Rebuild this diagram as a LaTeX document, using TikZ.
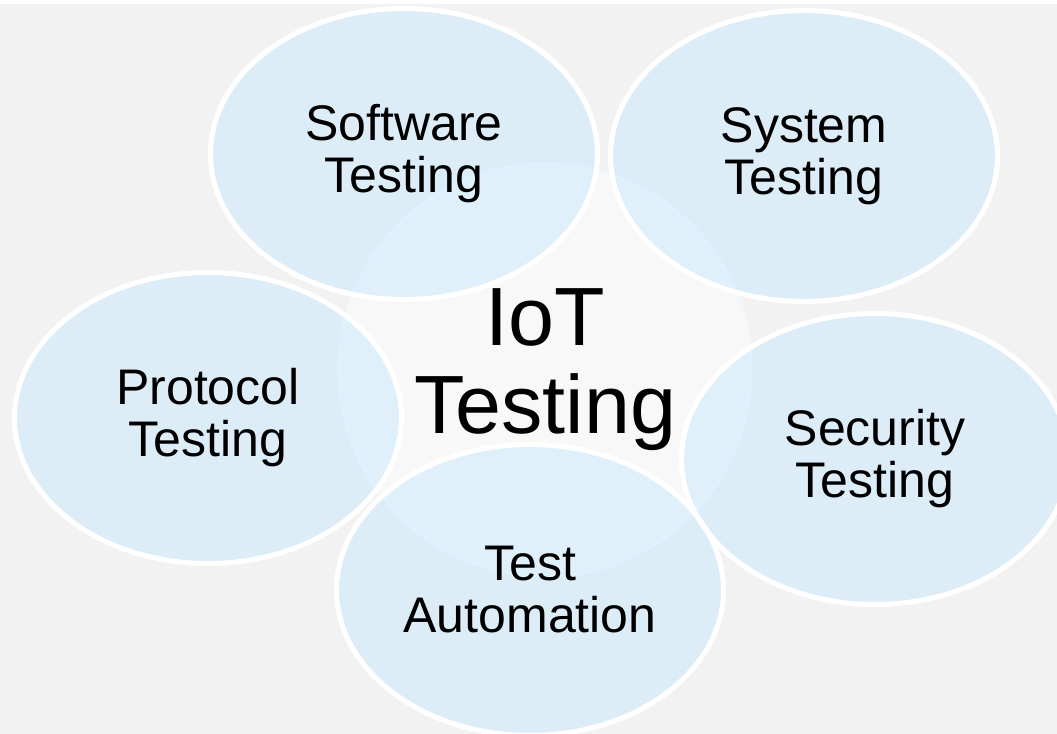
\documentclass[tikz,border=0pt]{standalone}
\usepackage{fontspec}
\setmainfont{Liberation Sans}
\usepackage{tikz}
\usetikzlibrary{shapes.geometric}

\definecolor{bggrey}{HTML}{F2F2F2}
\definecolor{hubfill}{HTML}{F8F8F8}
\definecolor{hubline}{HTML}{F2F9FE}
\definecolor{bubblefill}{RGB}{202,234,254}

\tikzset{
  bubble/.style={ellipse, fill=bubblefill, fill opacity=0.5, text opacity=1,
    inner sep=0pt, minimum width=289pt, minimum height=219pt, align=center,
    font=\fontsize{37.5}{39}\selectfont},
  rim/.style={draw=white, line width=3.75pt},
  hub/.style={circle, fill=hubfill, draw=hubline, line width=2.5pt,
    inner sep=0pt, minimum size=309pt, align=center,
    font=\fontsize{62}{66}\selectfont}
}

\begin{document}
\begin{tikzpicture}[x=0.75pt, y=-0.75pt]

\clip (0,0) rectangle (1057,734);
\fill[white] (0,0) rectangle (1057,734);
\fill[bggrey] (0,4) rectangle (1057,734);

% centre
\node[hub] (iot) at (545,370) {IoT\\Testing};

% outer bubbles
\node[bubble] (software) at (404,154) {Software\\Testing};
\node[bubble] (system) at (804,156) {System\\Testing};
\node[bubble] (security) at (875,459) {Security\\Testing};
\node[bubble] (automation) at (530,590) {Test\\Automation};
\node[bubble] (protocol) at (208,418) {Protocol\\Testing};

% white rims on top
\foreach \n in {software, system, security, automation, protocol}
  \draw[rim] (\n.center) ellipse [x radius=193.5, y radius=145.5];

\end{tikzpicture}
\end{document}
